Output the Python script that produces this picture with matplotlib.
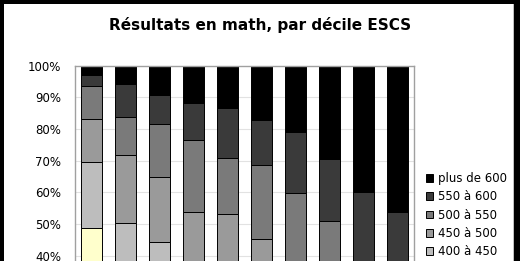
import matplotlib
matplotlib.use("Agg")
import matplotlib.pyplot as plt
import numpy as np
from matplotlib.patches import Rectangle
from matplotlib.ticker import FuncFormatter

# deciles ESCS (x axis, labels fall below the visible crop)
deciles = ["1", "2", "3", "4", "5", "6", "7", "8", "9", "10"]

# share of pupils per score band, in %, bottom band first
moins_350 = [26.0, 13.0, 12.0, 7.0, 8.0, 6.0, 3.0, 3.0, 1.0, 1.0]
b350_400 = [22.6, 17.0, 14.0, 10.0, 10.0, 8.0, 6.0, 4.0, 3.0, 2.0]
b400_450 = [20.9, 20.2, 18.4, 15.0, 15.0, 14.0, 11.0, 9.0, 6.0, 4.0]
b450_500 = [13.6, 21.5, 20.3, 21.8, 20.3, 17.3, 17.0, 14.0, 12.0, 10.0]
b500_550 = [10.6, 12.0, 16.8, 22.7, 17.6, 23.3, 22.7, 20.9, 16.0, 17.0]
b550_600 = [3.35, 10.5, 9.2, 11.8, 15.8, 14.2, 19.5, 19.5, 22.2, 19.7]
plus_600 = [2.95, 5.8, 9.3, 11.7, 13.3, 17.2, 20.8, 29.6, 39.8, 46.3]

series = [moins_350, b350_400, b400_450, b450_500, b500_550, b550_600, plus_600]
labels = ["moins de 350", "350 à 400", "400 à 450", "450 à 500",
          "500 à 550", "550 à 600", "plus de 600"]
colors = ["#d8d8ee", "#ffffcc", "#bdbdbd", "#9a9a9a", "#7a7a7a", "#3a3a3a", "#000000"]

W, H = 520, 261
fig = plt.figure(figsize=(W / 100, H / 100), dpi=100, facecolor="black")
# white page inside the black frame
fig.patches.append(Rectangle((4 / W, 0), 510 / W, (H - 4) / H,
                             transform=fig.transFigure, facecolor="white",
                             edgecolor="none", zorder=-2))
fig.patches.append(Rectangle((513 / W, 0), 1.2 / W, (H - 4) / H,
                             transform=fig.transFigure, facecolor="#c0c0c0",
                             edgecolor="none", zorder=-2))

top = 1 - 65.7 / H
height = 316.7 / H
ax = fig.add_axes([75 / W, top - height, 339 / W, height])
ax.set_facecolor("white")

x = np.arange(len(deciles))
bottom = np.zeros(len(deciles))
handles = []
for vals, lab, col in zip(series, labels, colors):
    v = np.array(vals) / 100
    h = ax.bar(x, v, 0.62, bottom=bottom, color=col, edgecolor="black",
               linewidth=0.7, label=lab, zorder=2)
    handles.append(h)
    bottom += v

ax.set_xlim(-0.5, len(deciles) - 0.5)
ax.set_ylim(0, 1)
# only the ticks inside the visible crop get labels
ax.set_yticks(np.arange(0.4, 1.01, 0.1))
ax.yaxis.set_major_formatter(FuncFormatter(lambda v, _: f"{v * 100:.0f}%"))
ax.set_xticks([])
ax.tick_params(axis="both", length=0, labelsize=8.5, pad=10)
for gy in np.arange(0.1, 1.0, 0.1):
    ax.axhline(gy, color="#e2e2e2", linewidth=0.8, zorder=0)
for s in ax.spines.values():
    s.set_color("#a0a0a0")
    s.set_linewidth(1)

fig.text(260.5 / W, 1 - 25 / H, "Résultats en math, par décile ESCS",
         ha="center", va="center", fontsize=11, fontweight="bold")

# legend: the two lowest bands fall below the crop
leg = fig.legend(handles[::-1][:5], labels[::-1][:5], loc="upper left",
                 bbox_to_anchor=(426 / W, 1 - 172 / H), frameon=False,
                 fontsize=8.5, handlelength=0.6, handleheight=0.6,
                 handletextpad=0.4, borderpad=0, borderaxespad=0,
                 labelspacing=0.45)

fig.savefig("out.png", dpi=100, facecolor=fig.get_facecolor())
